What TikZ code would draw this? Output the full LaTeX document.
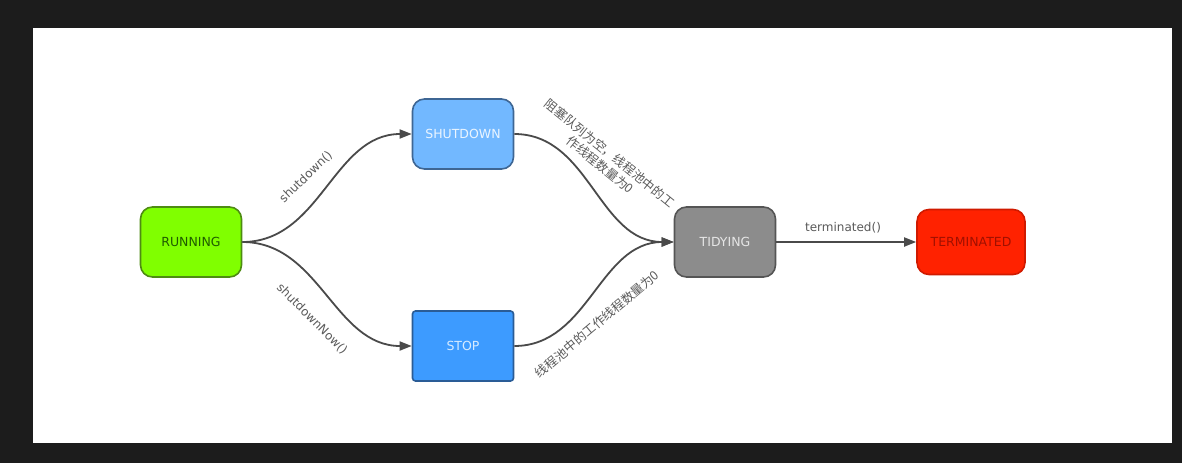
\documentclass[tikz,border=0pt]{standalone}
\usepackage{fontspec}
\setmainfont{DejaVu Sans}
\newfontfamily\cjk{Noto Sans CJK SC}
\usetikzlibrary{arrows.meta}
\definecolor{bgdark}{HTML}{1C1C1C}
\definecolor{edgec}{HTML}{4A4A4A}
\definecolor{labc}{HTML}{5A5A5A}
\definecolor{runfill}{HTML}{80FF00}
\definecolor{rundraw}{HTML}{4E8C12}
\definecolor{runtext}{HTML}{1F5C00}
\definecolor{shutfill}{HTML}{72B8FF}
\definecolor{shutdraw}{HTML}{3E6694}
\definecolor{shuttext}{HTML}{EAF5FF}
\definecolor{stopfill}{HTML}{3D9BFF}
\definecolor{stopdraw}{HTML}{2A5C96}
\definecolor{stoptext}{HTML}{D6EBFF}
\definecolor{tidyfill}{HTML}{8C8C8C}
\definecolor{tidydraw}{HTML}{555555}
\definecolor{tidytext}{HTML}{E6E6E6}
\definecolor{termfill}{HTML}{FF2200}
\definecolor{termdraw}{HTML}{D01A00}
\definecolor{termtext}{HTML}{A01000}
\tikzset{
  state/.style={draw, line width=1.6pt, rounded corners=12pt, minimum width=101pt, minimum height=70pt, inner sep=0pt, font=\fontsize{12.5}{15}\selectfont},
  edge/.style={draw=edgec, line width=1.8pt, -{Triangle[length=12pt,width=9pt]}},
  elabel/.style={text=labc, font=\fontsize{12}{14}\selectfont, inner sep=1pt},
  clabel/.style={text=labc, font=\cjk\fontsize{12.5}{15}\selectfont, inner sep=1pt, align=center},
}
\begin{document}
\begin{tikzpicture}[x=1pt,y=-1pt]
\fill[bgdark] (0,0) rectangle (1182,463);
\fill[white] (33,28) rectangle (1172,443);
\useasboundingbox (0,0) rectangle (1182,463);

\node[state, fill=runfill, draw=rundraw, text=runtext] (run) at (191,242) {RUNNING};
\node[state, fill=shutfill, draw=shutdraw, text=shuttext] (shut) at (463,134) {SHUTDOWN};
\node[state, fill=stopfill, draw=stopdraw, text=stoptext, rounded corners=3pt] (stop) at (463,346) {STOP};
\node[state, fill=tidyfill, draw=tidydraw, text=tidytext] (tidy) at (725,242) {TIDYING};
\node[state, fill=termfill, draw=termdraw, text=termtext, minimum width=108pt, minimum height=65pt] (term) at (971,242) {TERMINATED};

\draw[edge] (run.east) to[out=0,in=180] (shut.west);
\draw[edge] (run.east) to[out=0,in=180] (stop.west);
\draw[edge] (shut.east) to[out=0,in=180] (tidy.west);
\draw[edge] (stop.east) to[out=0,in=180] (tidy.west);
\draw[edge] (tidy.east) -- (term.west);

\node[elabel, rotate=44] (l1) at (306,177) {shutdown()};
\node[elabel, rotate=-45] (l2) at (312,319) {shutdownNow()};
\node[elabel] (l3) at (843,228) {terminated()};
\node[clabel, rotate=-39] (l4) at (605,159) {阻塞队列为空，线程池中的工\\作线程数量为0};
\node[clabel, rotate=40] (l5) at (597,324) {线程池中的工作线程数量为0};
\end{tikzpicture}
\end{document}
